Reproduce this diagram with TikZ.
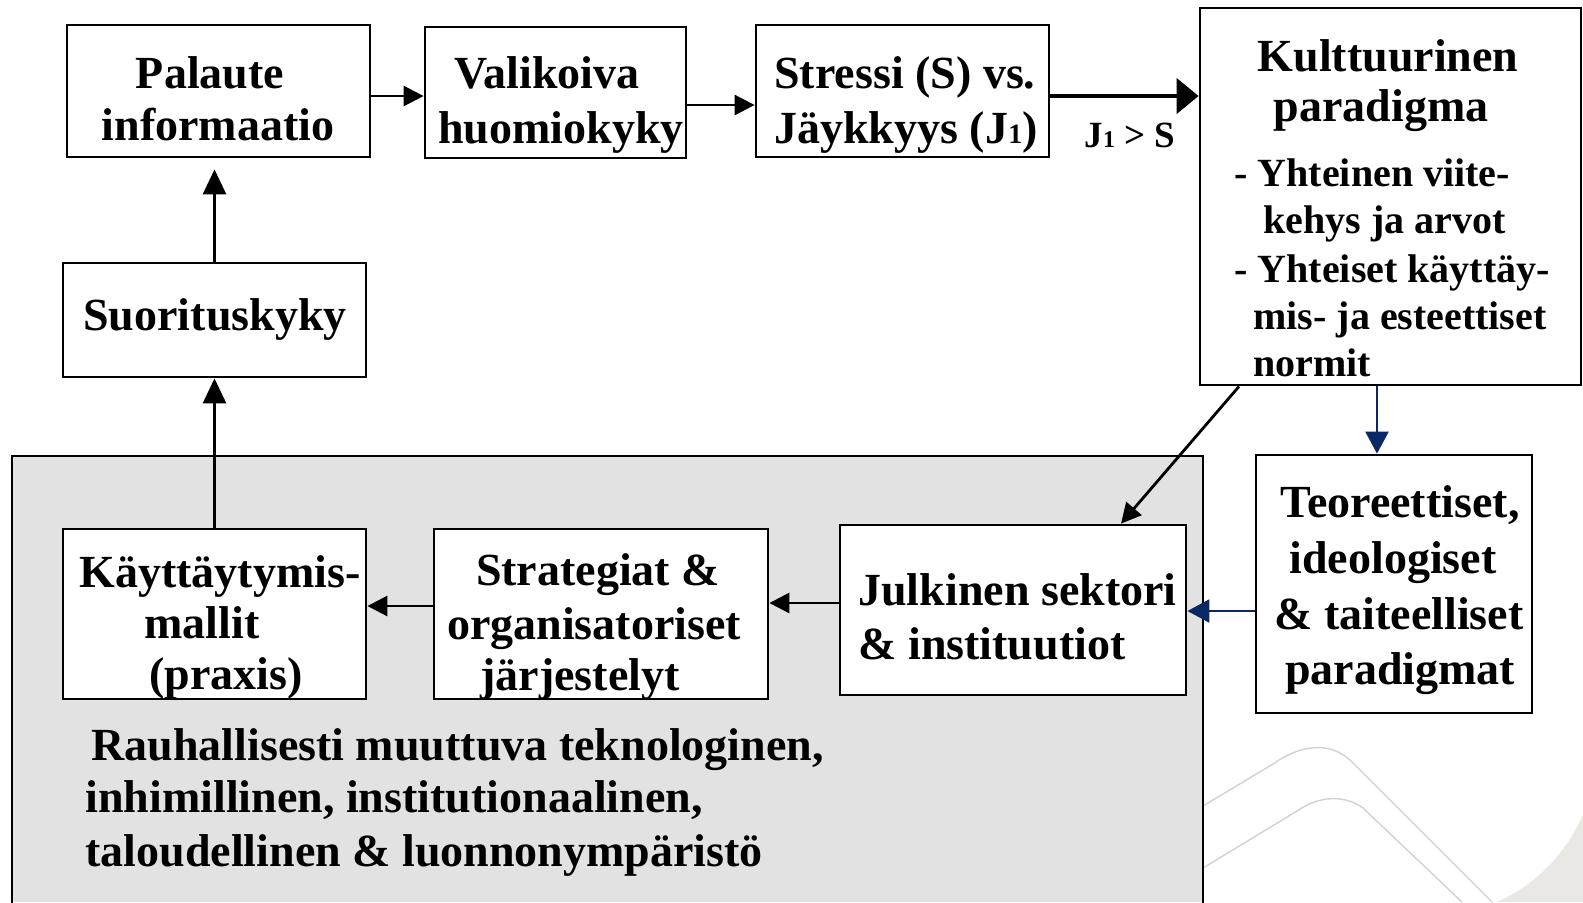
\documentclass[tikz,border=0pt]{standalone}
\usepackage{fontspec}
\setmainfont{Liberation Serif}
\usetikzlibrary{arrows.meta,fit}
\definecolor{navy}{RGB}{8,40,102}
\definecolor{bgtex}{RGB}{226,226,226}
\definecolor{deco}{RGB}{212,210,205}
\definecolor{decofill}{RGB}{234,232,228}
\begin{document}
\begin{tikzpicture}[x=0.5pt,y=-0.5pt,
  box/.style={draw=black, line width=1.4pt, fill=white, inner sep=0pt},
  big/.style={font=\bfseries\fontsize{23}{27}\selectfont, inner sep=0pt},
  small/.style={font=\bfseries\fontsize{20}{24}\selectfont, inner sep=0pt},
  arr/.style={line width=1.4pt, -{Triangle[length=10pt,width=10pt]}},
  varr/.style={line width=1.4pt, -{Triangle[length=12.5pt,width=11.5pt]}},
  bigarr/.style={line width=2.2pt, -{Triangle[length=11pt,width=17.5pt]}},
  barr/.style={line width=1.2pt, draw=navy, -{Triangle[length=11pt,width=11.5pt]}, navy},
]
\useasboundingbox (0,0) rectangle (1583,902);
\fill[white] (0,0) rectangle (1583,902);
% decorative background
\fill[decofill] (1583,815) .. controls (1565,855) and (1535,885) .. (1497,902) -- (1583,902) -- cycle;
\draw[deco, line width=0.7pt] (1203,806) -- (1273,764) .. controls (1300,745) and (1330,740) .. (1352,762) -- (1492,902);
\draw[deco, line width=0.7pt] (1203,868) -- (1297,811) .. controls (1320,795) and (1345,795) .. (1363,808) -- (1462,902);
% textured environment area
\fill[bgtex] (12,456) rectangle (1203,902);
\draw[line width=1.4pt] (12,904) -- (12,456) -- (1203,456) -- (1203,904);

% boxes
\node[box, fit={(67,25) (370,157)}] (pal) {};
\node[box, fit={(425,27) (686,158)}] (val) {};
\node[box, fit={(756,25) (1049,157)}] (str) {};
\node[box, fit={(1200,8) (1581,385)}] (kul) {};
\node[box, fit={(63,263) (366,377)}] (suo) {};
\node[box, fit={(63,529) (366,699)}] (kay) {};
\node[box, fit={(434,529) (768,699)}] (stra) {};
\node[box, fit={(840,525) (1186,695)}] (jul) {};
\node[box, fit={(1256,455) (1532,713)}] (teo) {};

% texts
\node[big, anchor=base] (pal1) at (210,88) {Palaute};
\node[big, anchor=base] (pal2) at (218,140) {informaatio};
\node[big, anchor=base] (val1) at (547,88) {Valikoiva};
\node[big, anchor=base] (val2) at (561,143) {huomiokyky};
\node[big, anchor=base west] (str1) at (774,88) {Stressi (S) vs.};
\node[big, anchor=base west] (str2) at (774,143) {Jäykkyys (J{\fontsize{14}{14}\selectfont 1})};
\node[font=\bfseries\fontsize{18.5}{18.5}\selectfont, inner sep=0pt, anchor=base] (jlab) at (1130,147) {J{\fontsize{12}{12}\selectfont 1} > S};

\node[big, anchor=base] (kt1) at (1388,71) {Kulttuurinen};
\node[big, anchor=base] (kt2) at (1381,121) {paradigma};
\node[small, anchor=base west] (kl1) at (1234,186) {- Yhteinen viite-};
\node[small, anchor=base west] (kl2) at (1263,233) {kehys ja arvot};
\node[small, anchor=base west] (kl3) at (1234,282) {- Yhteiset käyttäy-};
\node[small, anchor=base west] (kl4) at (1253,329) {mis- ja esteettiset};
\node[small, anchor=base west] (kl5) at (1253,376) {normit};

\node[big, anchor=base] (suo1) at (215,330) {Suorituskyky};

\node[big, anchor=base] (kay1) at (220,587) {Käyttäytymis-};
\node[big, anchor=base] (kay2) at (202,638) {mallit};
\node[big, anchor=base] (kay3) at (226,689) {(praxis)};

\node[big, anchor=base] (st1) at (598,585) {Strategiat \&};
\node[big, anchor=base] (st2) at (594,639) {organisatoriset};
\node[big, anchor=base] (st3) at (580,690) {järjestelyt};

\node[big, anchor=base west] (ju1) at (858,605) {Julkinen sektori};
\node[big, anchor=base west] (ju2) at (858,659) {\& instituutiot};

\node[big, anchor=base] (te1) at (1400,517) {Teoreettiset,};
\node[big, anchor=base] (te2) at (1393,573) {ideologiset};
\node[big, anchor=base] (te3) at (1399,629) {\& taiteelliset};
\node[big, anchor=base] (te4) at (1400,684) {paradigmat};

\node[big, anchor=base west] (env1) at (91,760) {Rauhallisesti muuttuva teknologinen,};
\node[big, anchor=base west] (env2) at (85,812) {inhimillinen, institutionaalinen,};
\node[big, anchor=base west] (env3) at (85,866) {taloudellinen \& luonnonympäristö};

% connectors
\draw[arr] ([yshift=-2.5pt]pal.east) -- ([yshift=-2.5pt]pal.east -| val.west);
\draw[arr] ([yshift=-6.25pt]val.east) -- ([yshift=-6.25pt]val.east -| str.west);
\draw[bigarr] ([yshift=-2.5pt]str.east) -- ([yshift=-2.5pt]str.east -| kul.west);
\draw[varr] (suo.north) -- ([yshift=-5.5pt]suo.north |- pal.south);
\draw[varr] (kay.north) -- (kay.north |- suo.south);
\draw[arr] ([yshift=4pt]stra.west) -- ([yshift=4pt]stra.west -| kay.east);
\draw[arr] ([yshift=3.5pt]jul.west) -- ([yshift=3.5pt]jul.west -| stra.east);
\draw[barr] ([yshift=-13.5pt]teo.west) -- ([yshift=-13.5pt]teo.west -| jul.east);
\draw[barr] ([xshift=-6.75pt]kul.south) -- ([xshift=-6.75pt]kul.south |- teo.north);
\draw[arr] ([xshift=-75.75pt]kul.south) -- ([xshift=54pt]jul.north);
\end{tikzpicture}
\end{document}
